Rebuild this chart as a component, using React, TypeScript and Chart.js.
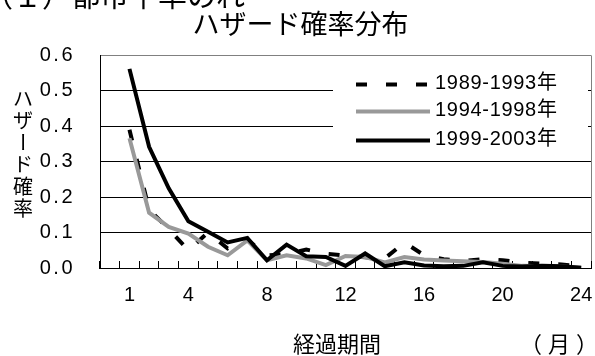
import React, { useEffect, useRef } from 'react';
import { Chart, registerables } from 'chart.js';

Chart.register(...registerables);

// ---- data ----
const categories = ['', '1', '2', '3', '4', '5', '6', '7', '8', '9', '10', '11', '12', '13', '14', '15', '16', '17', '18', '19', '20', '21', '22', '23', '24'];
const shownLabels = ['1', '4', '8', '12', '16', '20', '24'];
const seriesNames = ['1989-1993年', '1994-1998年', '1999-2003年'];
const hazard1989 = [null, 0.39, 0.165, 0.11, 0.05, 0.1, 0.055, 0.08, 0.035, 0.04, 0.052, 0.04, 0.035, 0.03, 0.027, 0.072, 0.036, 0.025, 0.02, 0.025, 0.022, 0.015, 0.012, 0.01, 0.005];
const hazard1994 = [null, 0.366, 0.156, 0.116, 0.097, 0.06, 0.036, 0.078, 0.022, 0.036, 0.027, 0.008, 0.034, 0.031, 0.016, 0.031, 0.024, 0.021, 0.019, 0.017, 0.012, 0.006, 0.005, 0.004, 0.001];
const hazard1999 = [null, 0.562, 0.342, 0.225, 0.132, 0.102, 0.072, 0.085, 0.022, 0.066, 0.033, 0.031, 0.006, 0.041, 0.005, 0.016, 0.007, 0.005, 0.006, 0.016, 0.006, 0.004, 0.006, 0.005, 0.001];

const chartTitle = 'ハザード確率分布';
const topText = '（１）都市平率のれ';
const yTitle = 'ハザード確率';
const xTitle = '経過期間';
const xUnit = '（月）';

const FONT_LATIN = "'Liberation Sans', Arial, 'Noto Sans CJK JP', sans-serif";
const FONT_JP = "'Noto Sans CJK JP', 'Liberation Sans', sans-serif";

const decorPlugin = {
  id: 'decor',
  afterLayout(chart: any) {
    const s: any = chart.scales.y;
    if (s && !s.__spaced) {
      const orig = s.drawLabels.bind(s);
      s.drawLabels = (area: any) => {
        const c: any = chart.ctx;
        c.save();
        c.letterSpacing = '2.5px';
        orig(area);
        c.restore();
      };
      s.__spaced = true;
    }
  },
  afterDraw(chart: any) {
    const { ctx, chartArea: a } = chart;
    ctx.save();
    // inset legend
    ctx.fillStyle = '#ffffff';
    ctx.fillRect(a.right - 258, a.top + 5, 255, 97);
    const rowY = [29, 56, 85];
    chart.data.datasets.forEach((ds: any, i: number) => {
      const y = a.top + rowY[i];
      ctx.beginPath();
      ctx.strokeStyle = ds.borderColor;
      ctx.lineWidth = ds.borderWidth;
      ctx.lineCap = 'butt';
      ctx.setLineDash(ds.borderDash || []);
      ctx.moveTo(a.right - 235, y);
      ctx.lineTo(a.right - 161, y);
      ctx.stroke();
      ctx.setLineDash([]);
      ctx.fillStyle = '#000';
      ctx.font = `20px ${FONT_LATIN}`;
      ctx.letterSpacing = '0.7px';
      ctx.textAlign = 'left';
      ctx.textBaseline = 'middle';
      ctx.fillText(ds.label, a.right - 156, y - 1);
      ctx.letterSpacing = '0px';
    });
    // x-axis title & unit
    ctx.fillStyle = '#000';
    ctx.font = `22px ${FONT_JP}`;
    ctx.textBaseline = 'middle';
    ctx.textAlign = 'center';
    ctx.fillText(xTitle, 337, 344);
    ctx.textAlign = 'left';
    ctx.letterSpacing = '6px';
    ctx.fillText(xUnit, 520, 344);
    ctx.letterSpacing = '0px';
    // vertical y-axis title
    ctx.font = `20px ${FONT_JP}`;
    ctx.textAlign = 'center';
    Array.from(yTitle).forEach((ch, i) => {
      const cy = 98 + i * 22;
      if (ch === 'ー') {
        ctx.save();
        ctx.translate(23, cy);
        ctx.rotate(Math.PI / 2);
        ctx.fillText(ch, 0, 0);
        ctx.restore();
      } else {
        ctx.fillText(ch, 23, cy);
      }
    });
    // cropped heading at the very top
    ctx.font = `29px ${FONT_JP}`;
    ctx.textAlign = 'left';
    ctx.textBaseline = 'alphabetic';
    ctx.fillText(topText, -16, 7);
    ctx.restore();
  },
};

export default function App() {
  const ref = useRef<HTMLCanvasElement | null>(null);

  useEffect(() => {
    if (!ref.current) return;
    const chart = new Chart(ref.current, {
      type: 'line',
      data: {
        labels: categories,
        datasets: [
          { label: seriesNames[0], data: hazard1989, borderColor: '#000000', borderWidth: 4, borderDash: [11, 19], pointRadius: 0, order: 3, tension: 0 },
          { label: seriesNames[1], data: hazard1994, borderColor: '#999999', borderWidth: 4, pointRadius: 0, order: 2, tension: 0 },
          { label: seriesNames[2], data: hazard1999, borderColor: '#000000', borderWidth: 4, pointRadius: 0, order: 1, tension: 0 },
        ],
      },
      options: {
        responsive: false,
        animation: false,
        events: [],
        layout: { padding: { left: 10, right: 4, top: 0, bottom: 0 } },
        plugins: {
          legend: { display: false },
          tooltip: { enabled: false },
          title: {
            display: true,
            text: chartTitle,
            color: '#000',
            font: { family: FONT_JP, size: 27, weight: 'normal' },
            padding: { top: 8, bottom: 15 },
          },
        },
        scales: {
          x: {
            offset: true,
            grid: {
              offset: true,
              drawOnChartArea: true,
              color: (c: any) => (c.type === 'scale' ? '#808080' : 'rgba(0,0,0,0)'),
              tickColor: '#000',
              tickLength: -7,
              lineWidth: 1,
            },
            border: { display: true, color: '#000', width: 1 },
            ticks: {
              autoSkip: false,
              maxRotation: 0,
              padding: 22,
              color: '#000',
              font: { family: FONT_LATIN, size: 20 },
              callback: (_v: any, i: number) => (shownLabels.includes(categories[i]) ? categories[i] : ''),
            },
            afterFit: (s: any) => {
              s.height = 88;
              s.paddingLeft = 0;
              s.paddingRight = 0;
            },
          },
          y: {
            min: 0,
            max: 0.6,
            ticks: {
              stepSize: 0.1,
              padding: 25,
              color: '#000',
              font: { family: FONT_LATIN, size: 20 },
              callback: (v: any) => Number(v).toFixed(1),
            },
            grid: {
              color: (c: any) => (c.tick && Math.abs(c.tick.value - 0.6) < 1e-9 ? '#808080' : '#000'),
              drawTicks: false,
              lineWidth: 1,
            },
            border: { display: true, color: '#000', width: 1 },
            afterFit: (s: any) => {
              s.width = 90;
            },
          },
        },
      } as any,
      plugins: [decorPlugin as any],
    });
    return () => chart.destroy();
  }, []);

  return (
    <div style={{ position: 'absolute', left: 0, top: 0, width: 595, height: 356, background: '#fff' }}>
      <canvas ref={ref} width={595} height={356} style={{ display: 'block' }} />
    </div>
  );
}
